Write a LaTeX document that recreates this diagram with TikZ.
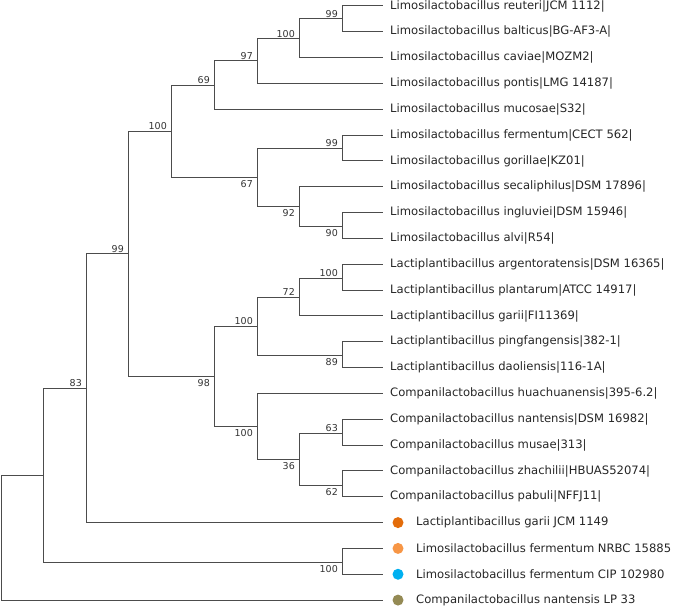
\documentclass[tikz,border=0pt]{standalone}
\usepackage{fontspec}
\setmainfont{DejaVu Sans}
\begin{document}
\begin{tikzpicture}[x=1pt,y=-1pt,
  br/.style={draw=black!70,line width=1pt},
  leaf/.style={anchor=west,inner sep=0pt,font=\fontsize{11.6}{13}\selectfont,text=black!85},
  up/.style={anchor=south east,inner sep=1pt,font=\fontsize{9.5}{11}\selectfont,text=black!80},
  dn/.style={anchor=north east,inner sep=1pt,font=\fontsize{9.5}{11}\selectfont,text=black!80},
  dot/.style={circle,inner sep=0pt,minimum size=11pt}]
\definecolor{cA}{HTML}{E36C0A}\definecolor{cB}{HTML}{F79646}
\definecolor{cC}{HTML}{00B0F0}\definecolor{cD}{HTML}{948A54}
\useasboundingbox (0,0) rectangle (685,610);
% leaves
\foreach \i/\t in {1/{Limosilactobacillus reuteri|JCM 1112|},2/{Limosilactobacillus balticus|BG-AF3-A|},3/{Limosilactobacillus caviae|MOZM2|},4/{Limosilactobacillus pontis|LMG 14187|},5/{Limosilactobacillus mucosae|S32|},6/{Limosilactobacillus fermentum|CECT 562|},7/{Limosilactobacillus gorillae|KZ01|},8/{Limosilactobacillus secaliphilus|DSM 17896|},9/{Limosilactobacillus ingluviei|DSM 15946|},10/{Limosilactobacillus alvi|R54|},11/{Lactiplantibacillus argentoratensis|DSM 16365|},12/{Lactiplantibacillus plantarum|ATCC 14917|},13/{Lactiplantibacillus garii|FI11369|},14/{Lactiplantibacillus pingfangensis|382-1|},15/{Lactiplantibacillus daoliensis|116-1A|},16/{Companilactobacillus huachuanensis|395-6.2|},17/{Companilactobacillus nantensis|DSM 16982|},18/{Companilactobacillus musae|313|},19/{Companilactobacillus zhachilii|HBUAS52074|},20/{Companilactobacillus pabuli|NFFJ11|}}{
  \coordinate (L\i) at (383,{6+(\i-1)*25.83});
  \node[leaf] (T\i) at (390,{6+(\i-1)*25.83}) {\t};
}
\foreach \i/\c/\t in {21/cA/{Lactiplantibacillus garii JCM 1149},22/cB/{Limosilactobacillus fermentum NRBC 15885},23/cC/{Limosilactobacillus fermentum CIP 102980},24/cD/{Companilactobacillus nantensis LP 33}}{
  \coordinate (L\i) at (383,{6+(\i-1)*25.83});
  \node[dot,fill=\c] (D\i) at (398,{6+(\i-1)*25.83}) {};
  \node[leaf] (T\i) at (416,{6+(\i-1)*25.83}) {\t};
}
% internal nodes
\coordinate (a) at (342,19); \coordinate (b) at (299,38.5);
\coordinate (c) at (257,61); \coordinate (d) at (214,85);
\coordinate (e) at (342,148); \coordinate (f) at (342,226);
\coordinate (g) at (299,206.5); \coordinate (h) at (257,177);
\coordinate (i) at (171,131); \coordinate (j) at (342,278);
\coordinate (k) at (299,297); \coordinate (l) at (342,355);
\coordinate (m) at (257,326); \coordinate (n) at (342,433);
\coordinate (o) at (342,485); \coordinate (p) at (299,459);
\coordinate (q) at (257,426.5); \coordinate (r) at (214,376);
\coordinate (s) at (128,253.5); \coordinate (t) at (86,388);
\coordinate (u) at (342,562); \coordinate (v) at (43,475);
\coordinate (root) at (1.5,538);
\foreach \p/\c in {a/L1,a/L2,b/a,b/L3,c/b,c/L4,d/c,d/L5,e/L6,e/L7,f/L9,f/L10,g/L8,g/f,h/e,h/g,i/d,i/h,j/L11,j/L12,k/j,k/L13,l/L14,l/L15,m/k,m/l,n/L17,n/L18,o/L19,o/L20,p/n,p/o,q/L16,q/p,r/m,r/q,s/i,s/r,t/s,t/L21,u/L22,u/L23,v/t,v/u,root/v,root/L24}
  \draw[br] (\p) |- (\c);
% bootstrap values
\foreach \n/\v in {a/99,b/100,c/97,d/69,i/100,e/99,s/99,j/100,k/72,m/100,t/83,n/63}
  \node[up] at ([xshift=-3pt]\n) {\v};
\foreach \n/\v in {h/67,g/92,f/90,l/89,r/98,q/100,p/36,o/62,u/100}
  \node[dn] at ([xshift=-3pt,yshift=-2pt]\n) {\v};
\end{tikzpicture}
\end{document}
